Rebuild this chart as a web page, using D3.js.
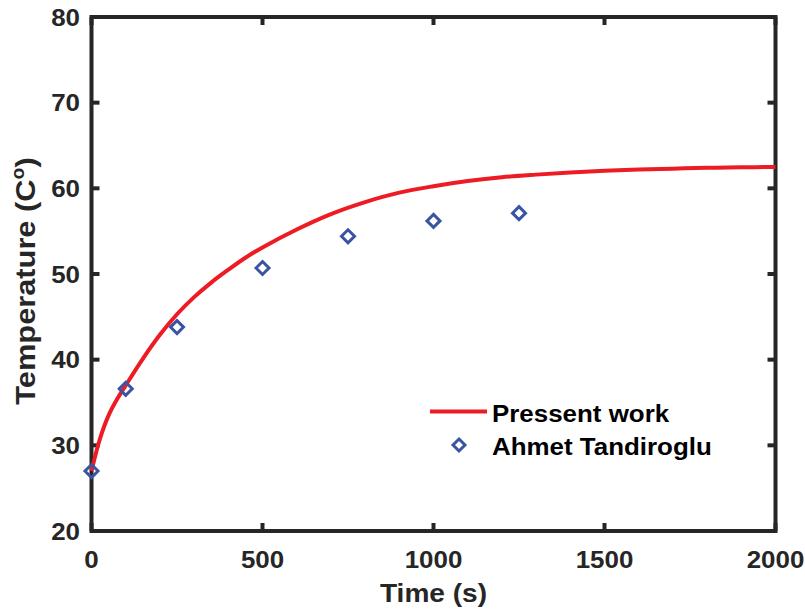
<!DOCTYPE html>
<html>
<head>
<meta charset="utf-8">
<script src="https://cdn.jsdelivr.net/npm/d3@7"></script>
<style>
  body { margin: 0; background: #fff; }
  svg text { font-family: "Liberation Sans", Arial, sans-serif; font-weight: bold; }
</style>
</head>
<body>
<div id="chart"></div>
<script>
// curve (time in s, temperature in C)
var curveTime = [0, 25, 50, 75, 100, 150, 200, 250, 300, 350, 400, 450, 500, 600, 700, 800, 900, 1000, 1100, 1200, 1300, 1400, 1500, 1600, 1700, 1800, 1900, 2000];
var curveTemp = [27.0, 30.8, 33.5, 35.4, 37.0, 40.1, 42.9, 45.3, 47.3, 49.0, 50.5, 51.9, 53.1, 55.2, 57.0, 58.4, 59.5, 60.25, 60.85, 61.3, 61.6, 61.85, 62.05, 62.2, 62.3, 62.4, 62.45, 62.5];

// measured points
var pointTime = [0, 100, 250, 500, 750, 1000, 1250];
var pointTemp = [27.0, 36.6, 43.8, 50.7, 54.4, 56.2, 57.1];

var xTicks = [0, 500, 1000, 1500, 2000];
var yTicks = [20, 30, 40, 50, 60, 70, 80];

var width = 805, height = 613;
var margin = { left: 91.5, right: 29.5, top: 17, bottom: 82 };

var svg = d3.select('#chart').append('svg')
    .attr('width', width)
    .attr('height', height);

var x = d3.scaleLinear().domain([0, 2000]).range([margin.left, width - margin.right]);
var y = d3.scaleLinear().domain([20, 80]).range([height - margin.bottom, margin.top]);

var axisColor = '#262626';
var tickLen = 8;
var stretch = 1.08; // text in the picture is a bit wider than Liberation Sans

// text helper: placed at (tx,ty), slightly widened
var label = function(parent, tx, ty, size, anchor, color, str) {
  return parent.append('text')
    .attr('transform', 'translate(' + tx + ',' + ty + ') scale(' + stretch + ',1)')
    .attr('text-anchor', anchor)
    .attr('font-size', size)
    .attr('fill', color)
    .text(str);
};

var g = svg.append('g');

// tick marks (inward, on all four sides)
xTicks.forEach(function(t) {
  g.append('line').attr('x1', x(t)).attr('x2', x(t))
    .attr('y1', y(20)).attr('y2', y(20) - tickLen)
    .attr('stroke', axisColor).attr('stroke-width', 4);
  g.append('line').attr('x1', x(t)).attr('x2', x(t))
    .attr('y1', y(80)).attr('y2', y(80) + tickLen)
    .attr('stroke', axisColor).attr('stroke-width', 4);
});
yTicks.forEach(function(t) {
  g.append('line').attr('x1', x(0)).attr('x2', x(0) + tickLen)
    .attr('y1', y(t)).attr('y2', y(t))
    .attr('stroke', axisColor).attr('stroke-width', 4);
  g.append('line').attr('x1', x(2000)).attr('x2', x(2000) - tickLen)
    .attr('y1', y(t)).attr('y2', y(t))
    .attr('stroke', axisColor).attr('stroke-width', 4);
});

g.append('rect')
  .attr('x', x(0)).attr('y', y(80))
  .attr('width', x(2000) - x(0)).attr('height', y(20) - y(80))
  .attr('fill', 'none').attr('stroke', axisColor).attr('stroke-width', 4);

// tick labels
xTicks.forEach(function(t) {
  label(g, x(t), 568, 24, 'middle', axisColor, t);
});
yTicks.forEach(function(t) {
  label(g, 80, y(t) + 8.5, 24, 'end', axisColor, t);
});

// axis titles
label(g, (x(0) + x(2000)) / 2, 602, 26, 'middle', axisColor, 'Time (s)');

var yt = g.append('text')
  .attr('transform', 'translate(35,281) rotate(-90) scale(' + stretch + ',1)')
  .attr('text-anchor', 'middle')
  .attr('font-size', 28.5)
  .attr('fill', axisColor);
yt.append('tspan').text('Temperature (C');
yt.append('tspan').attr('font-size', 18).attr('dy', -11).text('o');
yt.append('tspan').attr('dy', 11).text(')');

// model curve
var line = d3.line()
  .x(function(d, i) { return x(curveTime[i]); })
  .y(function(d) { return y(d); })
  .curve(d3.curveCatmullRom.alpha(0.5));

svg.append('path')
  .datum(curveTemp)
  .attr('d', line)
  .attr('fill', 'none')
  .attr('stroke', '#ed1c24')
  .attr('stroke-width', 4);

// measured points as diamonds
var diamond = function(cx, cy, r) {
  return 'M' + cx + ',' + (cy - r) + 'L' + (cx + r) + ',' + cy + 'L' + cx + ',' + (cy + r) + 'L' + (cx - r) + ',' + cy + 'Z';
};

svg.selectAll('.pt').data(pointTemp).enter().append('path')
  .attr('class', 'pt')
  .attr('d', function(d, i) { return diamond(x(pointTime[i]), y(d), 6.5); })
  .attr('fill', 'none')
  .attr('stroke', '#3a54a4')
  .attr('stroke-width', 3);

// legend
var lg = svg.append('g');
lg.append('line')
  .attr('x1', 430).attr('x2', 487).attr('y1', 411.5).attr('y2', 411.5)
  .attr('stroke', '#ed1c24').attr('stroke-width', 4);
label(lg, 492, 421.5, 24, 'start', '#000', 'Pressent work');
lg.append('path')
  .attr('d', diamond(459, 445, 6))
  .attr('fill', 'none').attr('stroke', '#3a54a4').attr('stroke-width', 3);
label(lg, 492, 455, 24, 'start', '#000', 'Ahmet Tandiroglu');
</script>
</body>
</html>
